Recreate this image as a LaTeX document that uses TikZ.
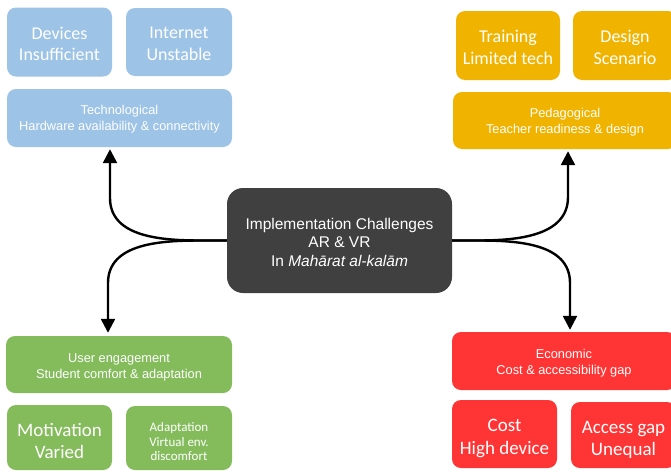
\documentclass[tikz,border=0pt]{standalone}
\usepackage{fontspec}
\setmainfont{Liberation Sans}
\newfontfamily\calfont{Carlito}
\usetikzlibrary{arrows.meta}
\definecolor{cblue}{HTML}{9DC3E6}
\definecolor{cgold}{HTML}{F0B400}
\definecolor{cgreen}{HTML}{84BC5C}
\definecolor{cred}{HTML}{FF3434}
\definecolor{cdark}{HTML}{404040}
\tikzset{
  box/.style={draw=none, rounded corners=9pt, inner sep=0pt},
  txt/.style={text=white, align=center, inner sep=0pt},
  big/.style={txt, font=\calfont\fontsize{18}{21.5}\selectfont},
  bigger/.style={txt, font=\calfont\fontsize{19}{22.5}\selectfont},
  small/.style={txt, font=\fontsize{12.8}{16}\selectfont},
  conn/.style={line width=2.4pt, -{Triangle[width=14pt,length=14pt]}},
}
\begin{document}
\begin{tikzpicture}[x=1pt,y=-1pt]
\clip (0,0) rectangle (671,471);
\fill[white] (0,0) rectangle (671,471);
% top-left (blue)
\node[box, fill=cblue, minimum width=105pt, minimum height=69pt] (dev) at (59.5,42) {};
\node[big] (devt) at ([yshift=-2pt]dev.center) {Devices\\Insufficient};
\node[box, fill=cblue, minimum width=106pt, minimum height=68pt] (net) at (179,42) {};
\node[big] (nett) at ([yshift=-2pt]net.center) {Internet\\Unstable};
\node[box, fill=cblue, minimum width=225pt, minimum height=58pt] (tech) at (119.5,118) {};
\node[small] (techt) at ([yshift=-1.5pt]tech.center) {Technological\\Hardware availability \& connectivity};
% top-right (gold)
\node[box, fill=cgold, minimum width=104pt, minimum height=69pt] (train) at (508,45.5) {};
\node[big] (traint) at ([yshift=-2pt]train.center) {Training\\Limited tech};
\node[box, fill=cgold, minimum width=104pt, minimum height=69pt] (design) at (625,45.5) {};
\node[big] (designt) at ([yshift=-2pt]design.center) {Design\\Scenario};
\node[box, fill=cgold, minimum width=224pt, minimum height=57pt] (peda) at (565,120.5) {};
\node[small] (pedat) at ([yshift=-1.5pt]peda.center) {Pedagogical\\Teacher readiness \& design};
% center
\node[box, fill=cdark, rounded corners=16pt, minimum width=225pt, minimum height=105pt] (ch) at (339.5,240.5) {};
\node[txt, font=\fontsize{15.5}{18.5}\selectfont] (cht) at ([yshift=-1.5pt]ch.center) {Implementation Challenges\\AR \& VR\\In \textit{Mahārat al-kalām}};
% bottom-left (green)
\node[box, fill=cgreen, minimum width=226pt, minimum height=57pt] (user) at (119,364.5) {};
\node[small] (usert) at ([yshift=-2.5pt]user.center) {User engagement\\Student comfort \& adaptation};
\node[box, fill=cgreen, minimum width=105pt, minimum height=65pt] (motiv) at (59.5,437.5) {};
\node[bigger] (motivt) at ([yshift=-3.5pt]motiv.center) {Motivation\\Varied};
\node[box, fill=cgreen, minimum width=106pt, minimum height=64pt] (adapt) at (179,438) {};
\node[txt, font=\calfont\fontsize{13}{14.5}\selectfont] (adaptt) at ([yshift=-4pt]adapt.center) {Adaptation\\Virtual env.\\discomfort};
% bottom-right (red)
\node[box, fill=cred, minimum width=224pt, minimum height=58pt] (econ) at (564,361) {};
\node[small] (econt) at ([yshift=-2pt]econ.center) {Economic\\Cost \& accessibility gap};
\node[box, fill=cred, minimum width=105pt, minimum height=68pt] (cost) at (504.5,434) {};
\node[bigger] (costt) at ([yshift=-4.5pt]cost.center) {Cost\\High device};
\node[box, fill=cred, minimum width=105pt, minimum height=66pt] (acc) at (623.5,435) {};
\node[bigger] (acct) at ([yshift=-5pt]acc.center) {Access gap\\Unequal};
% connectors
\coordinate (tl) at (110,198);
\coordinate (bl) at (108,283);
\coordinate (tr) at (568,197);
\coordinate (br) at (570,283);
\draw[conn, shorten >=2pt] (ch.west) -- ++(-25,0) to[out=180,in=-90] (tl) -- (tl |- tech.south);
\draw[conn, shorten >=3pt] (ch.west) -- ++(-25,0) to[out=180,in=90] (bl) -- (bl |- user.north);
\draw[conn, shorten >=2pt] (ch.east) -- ++(25,0) to[out=0,in=-90] (tr) -- (tr |- peda.south);
\draw[conn, shorten >=2pt] (ch.east) -- ++(25,0) to[out=0,in=90] (br) -- (br |- econ.north);
\end{tikzpicture}
\end{document}
